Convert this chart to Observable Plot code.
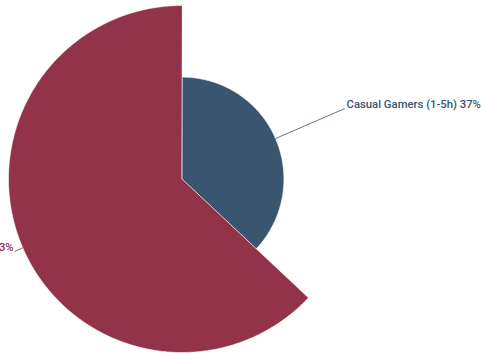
<!DOCTYPE html>
<html><head><meta charset="utf-8">
<script src="https://cdn.jsdelivr.net/npm/d3@7"></script>
<script src="https://cdn.jsdelivr.net/npm/@observablehq/plot@0.6"></script>
<style>body{margin:0;background:#fff}svg{display:block}</style>
</head><body><div id="chart"></div>
<script>
const categories = ["Casual Gamers (1-5h)", "Hardcore Gamers (6h+)"];
const shares = [37, 63];
const colors = ["#3a556f", "#93334a"];
const labelRadii = [64.3, 66.2];

const W = 481, H = 353, cx = 181.5, cy = 178.5, rMax = 173.5;
const k = rMax / d3.max(shares);
const pie = d3.pie().sort(null).value(d => d)(shares);

// polygons (data units; radius = share)
const poly = [];
pie.forEach((p, i) => {
  const r = shares[i];
  poly.push({key: i, x: 0, y: 0, fill: colors[i]});
  const n = Math.max(2, Math.ceil((p.endAngle - p.startAngle) / 0.01));
  for (let j = 0; j <= n; j++) {
    const a = p.startAngle + (p.endAngle - p.startAngle) * j / n;
    poly.push({key: i, x: r * Math.sin(a), y: r * Math.cos(a), fill: colors[i]});
  }
});

const labels = pie.map((p, i) => {
  const a = (p.startAngle + p.endAngle) / 2;
  const s = Math.sin(a), c = Math.cos(a);
  return {
    x1: shares[i] * s, y1: shares[i] * c,
    x2: labelRadii[i] * s, y2: labelRadii[i] * c,
    text: `${categories[i]} ${shares[i]}%`,
    anchor: s >= 0 ? "start" : "end",
    dx: s >= 0 ? 2 : -1,
    color: colors[i]
  };
});

const chart = Plot.plot({
  width: W, height: H,
  margin: 0,
  x: {domain: [-cx / k, (W - cx) / k], axis: null},
  y: {domain: [-(H - cy) / k, cy / k], axis: null},
  color: {type: "identity"},
  style: {fontFamily: "Roboto, sans-serif"},
  marks: [
    Plot.line(poly, {x: "x", y: "y", z: "key", fill: "fill", stroke: "#ffffff", strokeOpacity: 0.6, strokeWidth: 1, curve: "linear-closed"}),
    Plot.link(labels, {x1: "x1", y1: "y1", x2: "x2", y2: "y2", stroke: "color", strokeWidth: 1, strokeOpacity: 0.8}),
    ...labels.map(l => Plot.text([l], {x: "x2", y: "y2", text: "text", fill: "color", textAnchor: l.anchor, dx: l.dx, dy: -4, fontSize: 11.3, fontWeight: 500}))
  ]
});
document.getElementById("chart").appendChild(chart);
</script>
</body></html>
